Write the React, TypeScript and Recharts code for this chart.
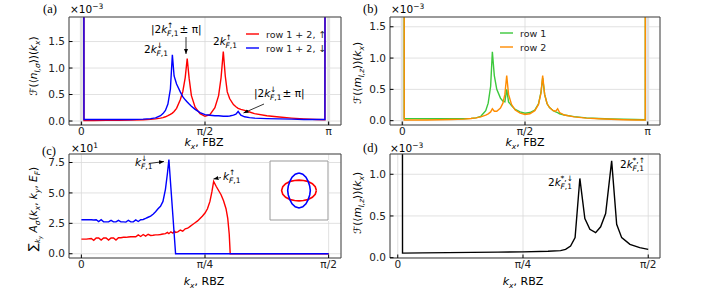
import React from 'react';
import { LineChart, Line, XAxis, YAxis, CartesianGrid, ReferenceLine, Legend } from 'recharts';

const RED = '#ff0000';
const BLUE = '#0000ff';
const GREEN = '#3cc83c';
const ORANGE = '#ff8c00';
const BLACK = '#000000';
const FONT = "'DejaVu Sans', sans-serif";
const SERIF = "'Liberation Serif', serif";

// (a) F(<n_l,sigma>)(kx), rows 1+2, kx in units of pi
const kxA = [
  0, 0.0105, 0.05, 0.1, 0.15, 0.2, 0.25, 0.28, 0.3, 0.32,
  0.33, 0.34, 0.35, 0.36, 0.368, 0.375, 0.385, 0.4, 0.41, 0.42,
  0.428, 0.436, 0.445, 0.46, 0.48, 0.5, 0.52, 0.54, 0.555, 0.565,
  0.574, 0.582, 0.59, 0.6, 0.615, 0.625, 0.634, 0.645, 0.66, 0.68,
  0.7, 0.75, 0.8, 0.85, 0.9, 0.95, 0.985, 1.0,
];
const upA = [
  100, 0.01, 0.01, 0.012, 0.014, 0.018, 0.025, 0.032, 0.04, 0.055,
  0.065, 0.08, 0.1, 0.125, 0.15, 0.18, 0.24, 0.4, 0.55, 0.82,
  1.18, 0.8, 0.48, 0.26, 0.14, 0.09, 0.12, 0.25, 0.48, 0.82,
  1.31, 0.85, 0.55, 0.42, 0.31, 0.27, 0.24, 0.22, 0.2, 0.17,
  0.14, 0.1, 0.075, 0.055, 0.04, 0.03, 0.025, 100,
];
const downA = [
  100, 0.03, 0.03, 0.03, 0.03, 0.03, 0.035, 0.045, 0.06, 0.1,
  0.14, 0.2, 0.32, 0.6, 1.25, 0.85, 0.7, 0.55, 0.46, 0.4,
  0.36, 0.32, 0.28, 0.22, 0.16, 0.12, 0.11, 0.1, 0.1, 0.095,
  0.09, 0.09, 0.09, 0.095, 0.11, 0.13, 0.18, 0.11, 0.08, 0.065,
  0.055, 0.045, 0.04, 0.035, 0.03, 0.03, 0.03, 100,
];

// (b) F(<m_l,z>)(kx) per row
const kxB = [
  0, 0.008, 0.05, 0.1, 0.15, 0.2, 0.25, 0.28, 0.3, 0.32,
  0.34, 0.35, 0.36, 0.367, 0.375, 0.385, 0.4, 0.41, 0.418, 0.4255,
  0.433, 0.445, 0.46, 0.48, 0.5, 0.52, 0.54, 0.555, 0.565, 0.572,
  0.58, 0.59, 0.6, 0.615, 0.625, 0.633, 0.641, 0.66, 0.7, 0.75,
  0.8, 0.85, 0.9, 0.95, 0.99, 1.0,
];
const row1B = [
  100, 0.035, 0.033, 0.032, 0.031, 0.03, 0.032, 0.036, 0.045, 0.07,
  0.16, 0.28, 0.55, 1.1, 0.72, 0.5, 0.36, 0.31, 0.3, 0.5,
  0.3, 0.24, 0.18, 0.14, 0.12, 0.13, 0.17, 0.27, 0.45, 0.68,
  0.42, 0.27, 0.21, 0.16, 0.14, 0.13, 0.11, 0.09, 0.065, 0.045,
  0.035, 0.028, 0.022, 0.018, 0.015, 100,
];
const row2B = [
  100, 0.01, 0.01, 0.012, 0.014, 0.018, 0.025, 0.035, 0.045, 0.06,
  0.09, 0.11, 0.14, 0.19, 0.15, 0.15, 0.2, 0.28, 0.42, 0.72,
  0.42, 0.26, 0.17, 0.12, 0.1, 0.11, 0.16, 0.26, 0.44, 0.72,
  0.42, 0.27, 0.21, 0.16, 0.15, 0.19, 0.13, 0.09, 0.06, 0.04,
  0.03, 0.022, 0.016, 0.012, 0.01, 100,
];

// (c) sum_ky A_sigma(kx, ky, E_F), kx in units of pi/2
const kxC = [
  0, 0.02, 0.04, 0.05, 0.06, 0.07, 0.08, 0.09, 0.1, 0.11,
  0.12, 0.13, 0.14, 0.15, 0.16, 0.17, 0.18, 0.19, 0.2, 0.21,
  0.22, 0.23, 0.24, 0.25, 0.26, 0.27, 0.28, 0.29, 0.3, 0.31,
  0.32, 0.33, 0.34, 0.348, 0.354, 0.362, 0.37, 0.377, 0.381, 0.39,
  0.4, 0.41, 0.42, 0.43, 0.44, 0.45, 0.46, 0.47, 0.48, 0.49,
  0.5, 0.51, 0.52, 0.528, 0.535, 0.545, 0.555, 0.565, 0.575, 0.585,
  0.592, 0.598, 0.602, 0.65, 0.8, 1.0,
];
const upC = [
  1.2, 1.2, 1.25, 1.1, 1.3, 1.3, 1.12, 1.3, 1.3, 1.12,
  1.3, 1.3, 1.12, 1.32, 1.32, 1.35, 1.35, 1.38, 1.4, 1.4,
  1.4, 1.55, 1.42, 1.58, 1.45, 1.6, 1.5, 1.52, 1.55, 1.55,
  1.58, 1.62, 1.65, 1.75, 1.65, 1.8, 1.7, 1.85, 1.75, 1.8,
  1.95, 1.85, 2.05, 2.1, 2.25, 2.4, 2.55, 2.7, 2.9, 3.1,
  3.35, 3.7, 4.3, 5.1, 5.95, 5.55, 5.2, 4.85, 4.35, 3.7,
  2.9, 1.6, 0, 0, 0, 0,
];
const downC = [
  2.8, 2.8, 2.8, 2.78, 2.8, 2.65, 2.8, 2.62, 2.62, 2.62,
  2.75, 2.62, 2.62, 2.75, 2.62, 2.62, 2.6, 2.75, 2.62, 2.62,
  2.78, 2.65, 2.8, 2.82, 2.9, 3.0, 3.1, 3.25, 3.45, 3.7,
  3.9, 4.3, 5.3, 6.6, 7.75, 5.45, 3.16, 1.15, 0, 0,
  0, 0, 0, 0, 0, 0, 0, 0, 0, 0,
  0, 0, 0, 0, 0, 0, 0, 0, 0, 0,
  0, 0, 0, 0, 0, 0,
];

// (d) F(<m_l,z>)(kx) in the reduced zone
const kxD = [
  0, 0.019, 0.1, 0.2, 0.3, 0.4, 0.5, 0.6, 0.65, 0.67,
  0.69, 0.708, 0.727, 0.747, 0.767, 0.79, 0.81, 0.83, 0.854, 0.874,
  0.894, 0.927, 0.966, 1.0,
];
const mD = [
  100, 0.055, 0.057, 0.06, 0.063, 0.066, 0.07, 0.077, 0.085, 0.1,
  0.14, 0.24, 0.95, 0.47, 0.34, 0.3, 0.37, 0.53, 1.16, 0.4,
  0.24, 0.16, 0.12, 0.1,
];

// inset: Fermi contours
const fsUpX = [0.6, 0.56, 0.46, 0.3, 0.15, 0, -0.15, -0.3, -0.46, -0.56, -0.6, -0.56, -0.46, -0.3, -0.15, 0, 0.15, 0.3, 0.46, 0.56, 0.6];
const fsUpY = [0, 0.13, 0.23, 0.31, 0.34, 0.35, 0.34, 0.31, 0.23, 0.13, 0, -0.13, -0.23, -0.31, -0.34, -0.35, -0.34, -0.31, -0.23, -0.13, 0];
const fsDnX = [0, 0.13, 0.24, 0.32, 0.37, 0.39, 0.37, 0.32, 0.24, 0.13, 0, -0.13, -0.24, -0.32, -0.37, -0.39, -0.37, -0.32, -0.24, -0.13, 0];
const fsDnY = [0.59, 0.55, 0.45, 0.3, 0.15, 0, -0.15, -0.3, -0.45, -0.55, -0.59, -0.55, -0.45, -0.3, -0.15, 0, 0.15, 0.3, 0.45, 0.55, 0.59];

const xTicks = [0, 0.5, 1];
const fbzLabels = ['0', 'π/2', 'π'];
const rbzLabels = ['0', 'π/4', 'π/2'];
const yTicksAB = [0, 0.5, 1, 1.5];
const yTicksC = [0, 2.5, 5, 7.5];
const yTicksD = [0, 0.5, 1];
const insetTicks = [-0.5, 0, 0.5];

const dataA = kxA.map((x, i) => ({ x, up: upA[i], down: downA[i] }));
const dataB = kxB.map((x, i) => ({ x, row1: row1B[i], row2: row2B[i] }));
const dataC = kxC.map((x, i) => ({ x, up: upC[i], down: downC[i] }));
const dataD = kxD.map((x, i) => ({ x, m: mD[i] }));
const fsUp = fsUpX.map((x, i) => ({ x, y: fsUpY[i] }));
const fsDn = fsDnX.map((x, i) => ({ x, y: fsDnY[i] }));

const tickFont = { fontSize: 10.5, fill: '#222', fontFamily: FONT };

function LegendBox({ items }: { items: { label: string; color: string }[] }) {
  return (
    <svg width={100} height={32}>
      {items.map((it, i) => (
        <g key={i}>
          <line x1={3} x2={16} y1={8 + 14 * i} y2={8 + 14 * i} stroke={it.color} strokeWidth={1.4} />
          <text x={23} y={11.5 + 14 * i} fontSize={9.5} fontFamily={FONT} fill="#222">{it.label}</text>
        </g>
      ))}
    </svg>
  );
}

function Panel(props: any) {
  const { left, top, width, height, margin, yWidth, xDomain, yDomain, xLabels, yTicks, yFmt, data, lines, wideGrid, legend } = props;
  const fmtX = (v: number) => xLabels[xTicks.indexOf(v)] ?? '';
  return (
    <div style={{ position: 'absolute', left, top }}>
      <LineChart width={width} height={height} data={data} margin={margin}>
        <CartesianGrid stroke="#d9d9d9" strokeWidth={0.8} />
        {wideGrid && <ReferenceLine x={0} stroke="#e2e2e2" strokeWidth={3} />}
        {wideGrid && <ReferenceLine x={1} stroke="#e2e2e2" strokeWidth={3} />}
        <XAxis dataKey="x" type="number" domain={xDomain} ticks={xTicks} interval={0} allowDataOverflow
          tickFormatter={fmtX} height={25} tickSize={-3.5} tickMargin={6} tick={tickFont}
          axisLine={{ stroke: '#444' }} tickLine={{ stroke: '#000' }} />
        <XAxis xAxisId="top" orientation="top" type="number" domain={xDomain} ticks={xTicks} interval={0} allowDataOverflow
          height={1} tick={false} tickSize={-3.5} axisLine={{ stroke: '#444' }} tickLine={{ stroke: '#000' }} />
        <YAxis type="number" domain={yDomain} ticks={yTicks} interval={0} allowDataOverflow width={yWidth}
          tickFormatter={yFmt} tickSize={-3.5} tickMargin={7.5} tick={tickFont}
          axisLine={{ stroke: '#444' }} tickLine={{ stroke: '#000' }} />
        <YAxis yAxisId="right" orientation="right" type="number" domain={yDomain} ticks={yTicks} interval={0} allowDataOverflow
          width={1} tick={false} tickSize={-3.5} axisLine={{ stroke: '#444' }} tickLine={{ stroke: '#000' }} />
        {lines.map((l: any) => (
          <Line key={l.key} type="linear" dataKey={l.key} stroke={l.color} strokeWidth={1.4} dot={false} isAnimationActive={false} />
        ))}
        {legend && (
          <Legend layout="vertical" align="center" verticalAlign="middle"
            wrapperStyle={{ left: legend.left, top: legend.top, width: 100, height: 32 }}
            content={() => <LegendBox items={legend.items} />} />
        )}
      </LineChart>
    </div>
  );
}

function KLabel({ x, y, pre, sup, baseW, scriptW, tail }: any) {
  return (
    <g fontFamily={FONT} fill="#000">
      <text x={x} y={y} fontSize={10.5}>{pre}<tspan fontStyle="italic">k</tspan></text>
      <text x={x + baseW} y={y - 5.5} fontSize={7.5}>{sup}</text>
      <text x={x + baseW} y={y + 3} fontSize={7.5}><tspan fontStyle="italic">F</tspan>,1</text>
      {tail && <text x={x + baseW + scriptW} y={y} fontSize={10.5}>{tail}</text>}
    </g>
  );
}

function XLabel({ x, y, zone }: any) {
  return (
    <text x={x} y={y} textAnchor="middle" fontSize={11} fontFamily={FONT} fill="#000">
      <tspan fontStyle="italic">k</tspan><tspan fontSize={7.5} dy={2.5} fontStyle="italic">x</tspan><tspan dy={-2.5}>{', ' + zone}</tspan>
    </text>
  );
}

function FLabel({ x, y, sym, sub }: any) {
  return (
    <text transform={`translate(${x},${y}) rotate(-90)`} textAnchor="middle" fontSize={10.5} fontFamily={FONT} fill="#000">
      ℱ(⟨<tspan fontStyle="italic">{sym}</tspan><tspan fontSize={7.5} dy={2.5} fontStyle="italic">{sub}</tspan><tspan dy={-2.5}>⟩)(</tspan><tspan fontStyle="italic">k</tspan><tspan fontSize={7.5} dy={2.5} fontStyle="italic">x</tspan><tspan dy={-2.5}>)</tspan>
    </text>
  );
}

function Scale({ x, y, exp }: any) {
  return (
    <text x={x} y={y} fontSize={10.5} fontFamily={FONT} fill="#000">
      ×10<tspan fontSize={7.5} dy={-4.5}>{exp}</tspan>
    </text>
  );
}

function Overlay() {
  return (
    <svg width={708} height={292} style={{ position: 'absolute', left: 0, top: 0, pointerEvents: 'none' }}>
      <defs>
        <marker id="ah" viewBox="0 0 10 10" refX="10" refY="5" markerWidth="5" markerHeight="5" markerUnits="userSpaceOnUse" orient="auto">
          <path d="M0,1 L10,5 L0,9 z" fill="#000" />
        </marker>
      </defs>
      {/* panel tags */}
      <text x={43} y={13} fontSize={12.5} fontFamily={SERIF}>(a)</text>
      <text x={363} y={13} fontSize={12.5} fontFamily={SERIF}>(b)</text>
      <text x={42} y={155} fontSize={12.5} fontFamily={SERIF}>(c)</text>
      <text x={363} y={152} fontSize={12.5} fontFamily={SERIF}>(d)</text>
      <Scale x={70} y={13} exp="−3" />
      <Scale x={391} y={13} exp="−3" />
      <Scale x={71} y={152} exp="1" />
      <Scale x={390} y={152} exp="−3" />

      {/* axis labels */}
      <XLabel x={204} y={146} zone="FBZ" />
      <XLabel x={525} y={146} zone="FBZ" />
      <XLabel x={204} y={285} zone="RBZ" />
      <XLabel x={523} y={285} zone="RBZ" />
      <FLabel x={37} y={66} sym="n" sub="l,σ" />
      <FLabel x={361} y={73} sym="m" sub="l,z" />
      <FLabel x={361} y={203} sym="m" sub="l,z" />
      <text transform="translate(37,209) rotate(-90)" textAnchor="middle" fontSize={10.5} fontFamily={FONT} fill="#000">
        <tspan fontSize={12}>∑</tspan><tspan fontSize={7} dy={3} fontStyle="italic">k</tspan><tspan fontSize={5.5} dy={1.5} fontStyle="italic">y</tspan><tspan dy={-4.5} fontStyle="italic"> A</tspan><tspan fontSize={7.5} dy={2.5} fontStyle="italic">σ</tspan><tspan dy={-2.5}>(</tspan><tspan fontStyle="italic">k</tspan><tspan fontSize={7.5} dy={2.5} fontStyle="italic">x</tspan><tspan dy={-2.5}>, </tspan><tspan fontStyle="italic">k</tspan><tspan fontSize={7.5} dy={2.5} fontStyle="italic">y</tspan><tspan dy={-2.5}>, </tspan><tspan fontStyle="italic">E</tspan><tspan fontSize={7.5} dy={2.5} fontStyle="italic">F</tspan><tspan dy={-2.5}>)</tspan>
      </text>

      {/* (a) annotations */}
      <KLabel x={151} y={33} pre="|2" sup="↑" baseW={16} scriptW={12.5} tail="± π|" />
      <line x1={186} y1={37} x2={186} y2={54} stroke="#000" strokeWidth={0.8} markerEnd="url(#ah)" />
      <KLabel x={144} y={53} pre="2" sup="↓" baseW={12.5} scriptW={11} />
      <KLabel x={213} y={45} pre="2" sup="↑" baseW={12.5} scriptW={11} />
      <KLabel x={254} y={97} pre="|2" sup="↓" baseW={16} scriptW={12.5} tail="± π|" />
      <line x1={264} y1={104} x2={243.5} y2={113} stroke="#000" strokeWidth={0.8} markerEnd="url(#ah)" />

      {/* (c) annotations */}
      <KLabel x={135} y={166} pre="" sup="↓" baseW={6} scriptW={11} />
      <line x1={149} y1={163.5} x2={164} y2={161.5} stroke="#000" strokeWidth={0.8} markerEnd="url(#ah)" />
      <KLabel x={223} y={180} pre="" sup="↑" baseW={6} scriptW={11} />
      <line x1={221} y1={177.5} x2={213.5} y2={179} stroke="#000" strokeWidth={0.8} markerEnd="url(#ah)" />

      {/* (d) annotations */}
      <KLabel x={548} y={186} pre="2" sup="*,↓" baseW={12.5} scriptW={11} />
      <KLabel x={620} y={168} pre="2" sup="*,↑" baseW={12.5} scriptW={11} />
    </svg>
  );
}

function Inset() {
  const ax = { stroke: '#999' };
  return (
    <div style={{ position: 'absolute', left: 269, top: 160, background: '#fff' }}>
      <LineChart width={60} height={61} margin={{ top: 0, right: 0, bottom: 0, left: 0 }}>
        <XAxis dataKey="x" type="number" domain={[-1, 1]} ticks={insetTicks} interval={0} allowDataOverflow height={1}
          tick={false} tickSize={-2} axisLine={ax} tickLine={ax} />
        <XAxis xAxisId="top" orientation="top" type="number" domain={[-1, 1]} ticks={insetTicks} interval={0} allowDataOverflow height={1}
          tick={false} tickSize={-2} axisLine={ax} tickLine={ax} />
        <YAxis type="number" domain={[-1, 1]} ticks={insetTicks} interval={0} allowDataOverflow width={1}
          tick={false} tickSize={-2} axisLine={ax} tickLine={ax} />
        <YAxis yAxisId="right" orientation="right" type="number" domain={[-1, 1]} ticks={insetTicks} interval={0} allowDataOverflow width={1}
          tick={false} tickSize={-2} axisLine={ax} tickLine={ax} />
        <Line data={fsUp} dataKey="y" type="linear" stroke={RED} strokeWidth={1.6} dot={false} isAnimationActive={false} />
        <Line data={fsDn} dataKey="y" type="linear" stroke={BLUE} strokeWidth={1.6} dot={false} isAnimationActive={false} />
      </LineChart>
    </div>
  );
}

export default function App() {
  const fmt1 = (v: number) => v.toFixed(1);
  return (
    <div style={{ position: 'absolute', left: 0, top: 0, width: 708, height: 292, background: '#fff', overflow: 'hidden' }}>
      <Panel left={0} top={0} width={360} height={150} margin={{ top: 16, right: 18, bottom: 0, left: 0 }} yWidth={69}
        xDomain={[-0.05, 1.05]} yDomain={[-0.075, 1.963]} xLabels={fbzLabels} yTicks={yTicksAB} yFmt={fmt1}
        data={dataA} wideGrid
        lines={[{ key: 'up', color: RED }, { key: 'down', color: BLUE }]}
        legend={{ left: 243, top: 26, items: [{ label: 'row 1 + 2, ↑', color: RED }, { label: 'row 1 + 2, ↓', color: BLUE }] }} />
      <Panel left={350} top={0} width={358} height={150} margin={{ top: 16, right: 47, bottom: 0, left: 0 }} yWidth={40}
        xDomain={[-0.05, 1.05]} yDomain={[-0.069, 1.656]} xLabels={fbzLabels} yTicks={yTicksAB} yFmt={fmt1}
        data={dataB} wideGrid
        lines={[{ key: 'row1', color: GREEN }, { key: 'row2', color: ORANGE }]}
        legend={{ left: 147, top: 25, items: [{ label: 'row 1', color: GREEN }, { label: 'row 2', color: ORANGE }] }} />
      <Panel left={0} top={145} width={360} height={147} margin={{ top: 8, right: 18, bottom: 9, left: 0 }} yWidth={69}
        xDomain={[-0.05, 1.05]} yDomain={[-0.35, 8.2]} xLabels={rbzLabels} yTicks={yTicksC} yFmt={fmt1}
        data={dataC}
        lines={[{ key: 'up', color: RED }, { key: 'down', color: BLUE }]} />
      <Panel left={350} top={145} width={358} height={147} margin={{ top: 8, right: 47, bottom: 9, left: 0 }} yWidth={40}
        xDomain={[-0.031, 1.047]} yDomain={[-0.004, 1.243]} xLabels={rbzLabels} yTicks={yTicksD} yFmt={fmt1}
        data={dataD}
        lines={[{ key: 'm', color: BLACK }]} />
      <Inset />
      <Overlay />
    </div>
  );
}
